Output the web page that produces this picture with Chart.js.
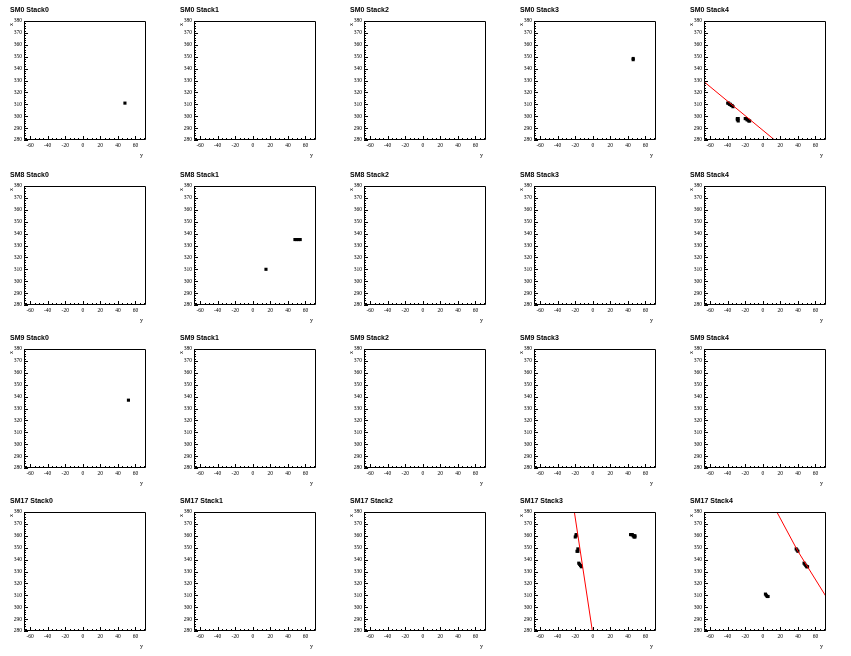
<!DOCTYPE html>
<html>
<head>
<meta charset="utf-8">
<script src="https://cdn.jsdelivr.net/npm/chart.js@4.4.1/dist/chart.umd.min.js"></script>
<style>
  body { margin: 0; background: #fff; }
  #grid { position: relative; width: 851px; height: 656px; }
  .pad { position: absolute; width: 170px; height: 164px; }
</style>
</head>
<body>
<div id="grid"></div>
<script>
// supermodules (rows) and stacks (columns)
const smNames = ['SM0', 'SM8', 'SM9', 'SM17'];
const stackNames = ['Stack0', 'Stack1', 'Stack2', 'Stack3', 'Stack4'];

// axis ticks
const xTickLabels = [-60, -40, -20, 0, 20, 40, 60];
const yTickLabels = [280, 290, 300, 310, 320, 330, 340, 350, 360, 370, 380];

// hits (y, x)
const hitsSM0Stack0 = [{x: 48, y: 311}];
const hitsSM0Stack3 = [{x: 46, y: 348.5}, {x: 46, y: 347.5}];
const hitsSM0Stack4 = [
  {x: -40, y: 311}, {x: -39, y: 311}, {x: -38, y: 310}, {x: -37, y: 310}, {x: -36, y: 309}, {x: -35, y: 309}, {x: -34, y: 308},
  {x: -29, y: 298}, {x: -28, y: 298}, {x: -29, y: 297}, {x: -28, y: 296},
  {x: -20, y: 298}, {x: -19, y: 298}, {x: -18, y: 297}, {x: -17, y: 297}, {x: -16, y: 296}, {x: -15, y: 296}
];
const hitsSM8Stack1 = [
  {x: 15, y: 310},
  {x: 48, y: 335}, {x: 50, y: 335}, {x: 52, y: 335}, {x: 54, y: 335}
];
const hitsSM9Stack0 = [{x: 52, y: 337}];
const hitsSM17Stack3 = [
  {x: -19, y: 361}, {x: -20, y: 359}, {x: -19, y: 360},
  {x: -17, y: 349}, {x: -18, y: 347}, {x: -17, y: 347},
  {x: -16, y: 337}, {x: -15, y: 336}, {x: -14, y: 335}, {x: -13, y: 334},
  {x: 43, y: 361}, {x: 44, y: 361}, {x: 45, y: 361}, {x: 46, y: 360}, {x: 47, y: 360}, {x: 48, y: 360}, {x: 47, y: 359}, {x: 48, y: 359}
];
const hitsSM17Stack4 = [
  {x: 38, y: 349}, {x: 39, y: 348}, {x: 40, y: 347},
  {x: 47, y: 337}, {x: 48, y: 336}, {x: 49, y: 335}, {x: 50, y: 334}, {x: 51, y: 334},
  {x: 3, y: 311}, {x: 4, y: 310}, {x: 5, y: 309}, {x: 6, y: 309}
];

// fitted tracks (red)
const fitSM0Stack4 = [{x: -67, y: 329}, {x: 13.5, y: 280}];
const fitSM17Stack3 = [{x: -21, y: 380}, {x: -0.5, y: 280}];
const fitSM17Stack4 = [{x: 16, y: 380}, {x: 40, y: 347}, {x: 72, y: 309}];

const hitsByPad = {
  'SM0 Stack0': hitsSM0Stack0, 'SM0 Stack3': hitsSM0Stack3, 'SM0 Stack4': hitsSM0Stack4,
  'SM8 Stack1': hitsSM8Stack1, 'SM9 Stack0': hitsSM9Stack0,
  'SM17 Stack3': hitsSM17Stack3, 'SM17 Stack4': hitsSM17Stack4
};
const fitsByPad = {
  'SM0 Stack4': fitSM0Stack4, 'SM17 Stack3': fitSM17Stack3, 'SM17 Stack4': fitSM17Stack4
};

const rowTops = [0, 165, 328, 491];
const colLefts = [0, 170, 340, 510, 680];

// ROOT-like frame: box, inner ticks, labels, titles
const rootFrame = {
  id: 'rootFrame',
  afterDraw(chart, args, opts) {
    const ctx = chart.ctx;
    const a = chart.chartArea;
    const xs = chart.scales.x, ys = chart.scales.y;
    ctx.save();
    ctx.strokeStyle = '#000';
    ctx.lineWidth = 1;
    ctx.beginPath();
    ctx.rect(Math.round(a.left) + 0.5, Math.round(a.top) + 0.5, Math.round(a.right - a.left) - 1, Math.round(a.bottom - a.top) - 1);
    ctx.stroke();

    ctx.beginPath();
    for (let v = -65; v <= 70; v += 5) {
      const px = Math.round(xs.getPixelForValue(v)) + 0.5;
      const len = (v % 20 === 0) ? 4 : 2;
      ctx.moveTo(px, a.bottom);
      ctx.lineTo(px, a.bottom - len);
    }
    for (let v = 280; v <= 380; v += 2) {
      const py = Math.round(ys.getPixelForValue(v)) + 0.5;
      const len = (v % 10 === 0) ? 4 : 2;
      ctx.moveTo(a.left, py);
      ctx.lineTo(a.left + len, py);
    }
    ctx.stroke();

    ctx.fillStyle = '#000';
    ctx.font = '5.5px "Liberation Serif", serif';
    ctx.textAlign = 'center';
    ctx.textBaseline = 'middle';
    xTickLabels.forEach(v => ctx.fillText(String(v), xs.getPixelForValue(v), a.bottom + 6));
    ctx.textAlign = 'right';
    yTickLabels.forEach(v => ctx.fillText(String(v), a.left - 2, ys.getPixelForValue(v)));

    // axis titles
    ctx.font = '6px "Liberation Serif", serif';
    ctx.textAlign = 'right';
    ctx.fillText('y', a.right - 3, a.bottom + 15);
    ctx.save();
    ctx.translate(a.left - 13, a.top + 2);
    ctx.rotate(-Math.PI / 2);
    ctx.textAlign = 'right';
    ctx.fillText('x', 0, 0);
    ctx.restore();

    // pad title
    ctx.font = 'bold 7px "Liberation Sans", Arial, sans-serif';
    ctx.textAlign = 'left';
    ctx.fillText(opts.title, 10, a.top - 11);
    ctx.restore();
  }
};

const grid = document.getElementById('grid');
smNames.forEach((sm, r) => {
  stackNames.forEach((st, c) => {
    const name = sm + ' ' + st;
    const div = document.createElement('div');
    div.className = 'pad';
    div.style.left = colLefts[c] + 'px';
    div.style.top = rowTops[r] + 'px';
    const cv = document.createElement('canvas');
    cv.width = 170; cv.height = 164;
    div.appendChild(cv);
    grid.appendChild(div);

    const datasets = [];
    if (fitsByPad[name]) {
      datasets.push({
        data: fitsByPad[name], showLine: true, borderColor: '#ff0000', borderWidth: 1,
        pointRadius: 0, fill: false
      });
    }
    datasets.push({
      data: hitsByPad[name] || [], pointStyle: 'rect', pointRadius: 2.2,
      backgroundColor: '#000', borderWidth: 0, showLine: false
    });

    new Chart(cv, {
      type: 'scatter',
      data: { datasets: datasets },
      options: {
        responsive: false,
        animation: false,
        layout: { padding: { left: 24, top: 21, right: 24, bottom: 24 } },
        scales: {
          x: { type: 'linear', min: -67, max: 72, display: false },
          y: { type: 'linear', min: 280, max: 380, display: false }
        },
        plugins: {
          legend: { display: false },
          tooltip: { enabled: false },
          rootFrame: { title: name }
        }
      },
      plugins: [rootFrame]
    });
  });
});
</script>
</body>
</html>
